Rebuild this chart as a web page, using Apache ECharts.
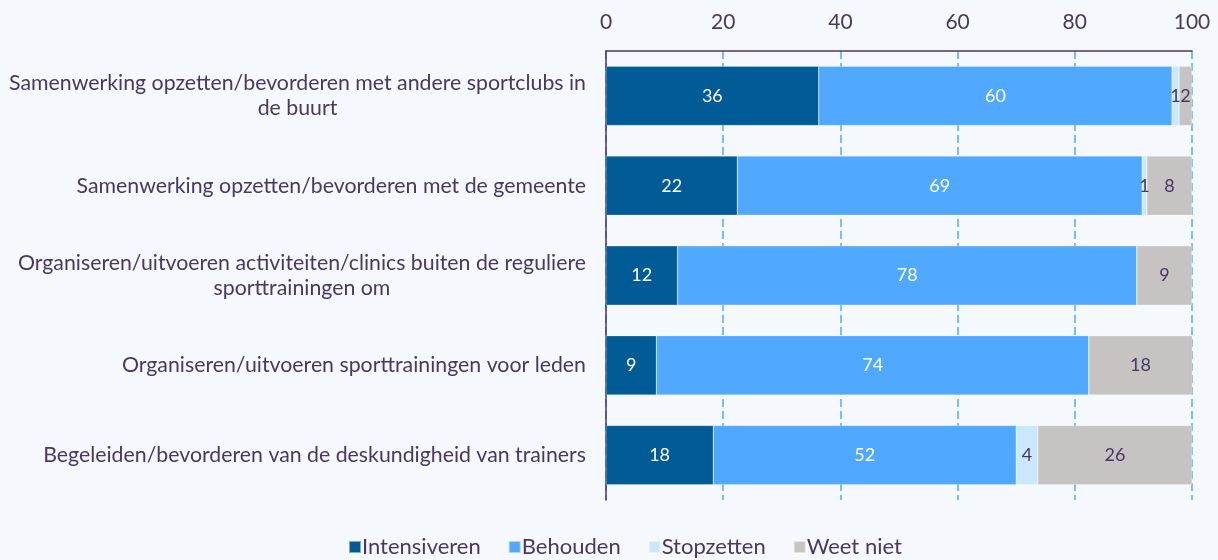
<!DOCTYPE html>
<html>
<head>
<meta charset="utf-8">
<script src="https://cdn.jsdelivr.net/npm/echarts@6/dist/echarts.min.js"></script>
<style>
  html, body { margin: 0; padding: 0; background: #f5f8fd; }
  #chart { width: 1218px; height: 560px; }
</style>
</head>
<body>
<div id="chart"></div>
<script>
// categorieën (van boven naar beneden)
const categories = [
  'Samenwerking opzetten/bevorderen met andere sportclubs in\nde buurt',
  'Samenwerking opzetten/bevorderen met de gemeente',
  'Organiseren/uitvoeren activiteiten/clinics buiten de reguliere\nsporttrainingen om',
  'Organiseren/uitvoeren sporttrainingen voor leden',
  'Begeleiden/bevorderen van de deskundigheid van trainers'
]
const intensiveren = [36.3, 22.4, 12.2, 8.6, 18.3]
const behouden = [60.3, 69.1, 78.4, 73.8, 51.7]
const stopzetten = [1.2, 0.8, 0, 0, 3.7]
const weetNiet = [2.2, 7.7, 9.4, 17.7, 26.3]
const xTicks = [0, 20, 40, 60, 80, 100]

const textColor = '#4b3763'
const font = 'Lato'

let myChart = echarts.init(document.getElementById('chart'))

function makeSeries (name, data, color, labelColor) {
  return {
    name: name,
    type: 'bar',
    stack: 'total',
    data: data,
    barWidth: '66%',
    itemStyle: { color: color, borderColor: 'rgba(255,255,255,0.5)', borderWidth: 0.5 },
    label: {
      show: true,
      position: 'inside',
      color: labelColor,
      fontFamily: font,
      fontSize: 18,
      formatter: p => (p.value > 0 ? Math.round(p.value) : '')
    },
    emphasis: { disabled: true }
  }
}

myChart.setOption({
  backgroundColor: '#f5f8fd',
  animation: false,
  grid: { left: 606, right: 26, top: 51, bottom: 60 },
  legend: {
    bottom: -3,
    left: 343,
    itemWidth: 12,
    itemHeight: 12,
    itemGap: 27,
    icon: 'rect',
    textStyle: { color: textColor, fontFamily: font, fontSize: 22, padding: [0, 0, 0, -4] },
    data: ['Intensiveren', 'Behouden', 'Stopzetten', 'Weet niet']
  },
  xAxis: {
    type: 'value',
    position: 'top',
    min: 0,
    max: 100,
    interval: 20,
    axisLine: { show: true, lineStyle: { color: textColor, width: 1.5 } },
    axisTick: { show: false },
    axisLabel: {
      color: textColor,
      fontFamily: font,
      fontSize: 21,
      margin: 18,
      formatter: v => (xTicks.indexOf(v) >= 0 ? v : '')
    },
    splitLine: { show: true, lineStyle: { color: '#51a9ff', type: [8, 4], width: 1.5 } }
  },
  yAxis: {
    type: 'category',
    inverse: true,
    data: categories,
    axisLine: { show: true, lineStyle: { color: textColor, width: 1.5 } },
    axisTick: { show: false },
    axisLabel: {
      color: textColor,
      fontFamily: font,
      fontSize: 21.3,
      margin: 20,
      lineHeight: 25,
      formatter: v => v.split('\n').map(l => '{c|' + l + '}').join('\n'),
      rich: {
        c: { align: 'center', color: textColor, fontFamily: font, fontSize: 21.3, lineHeight: 25 }
      }
    }
  },
  series: [
    makeSeries('Intensiveren', intensiveren, '#005b96', '#ffffff'),
    makeSeries('Behouden', behouden, '#51a9ff', '#ffffff'),
    makeSeries('Stopzetten', stopzetten, '#c9e8fc', textColor),
    makeSeries('Weet niet', weetNiet, '#c5c4c2', textColor)
  ]
})
</script>
</body>
</html>
